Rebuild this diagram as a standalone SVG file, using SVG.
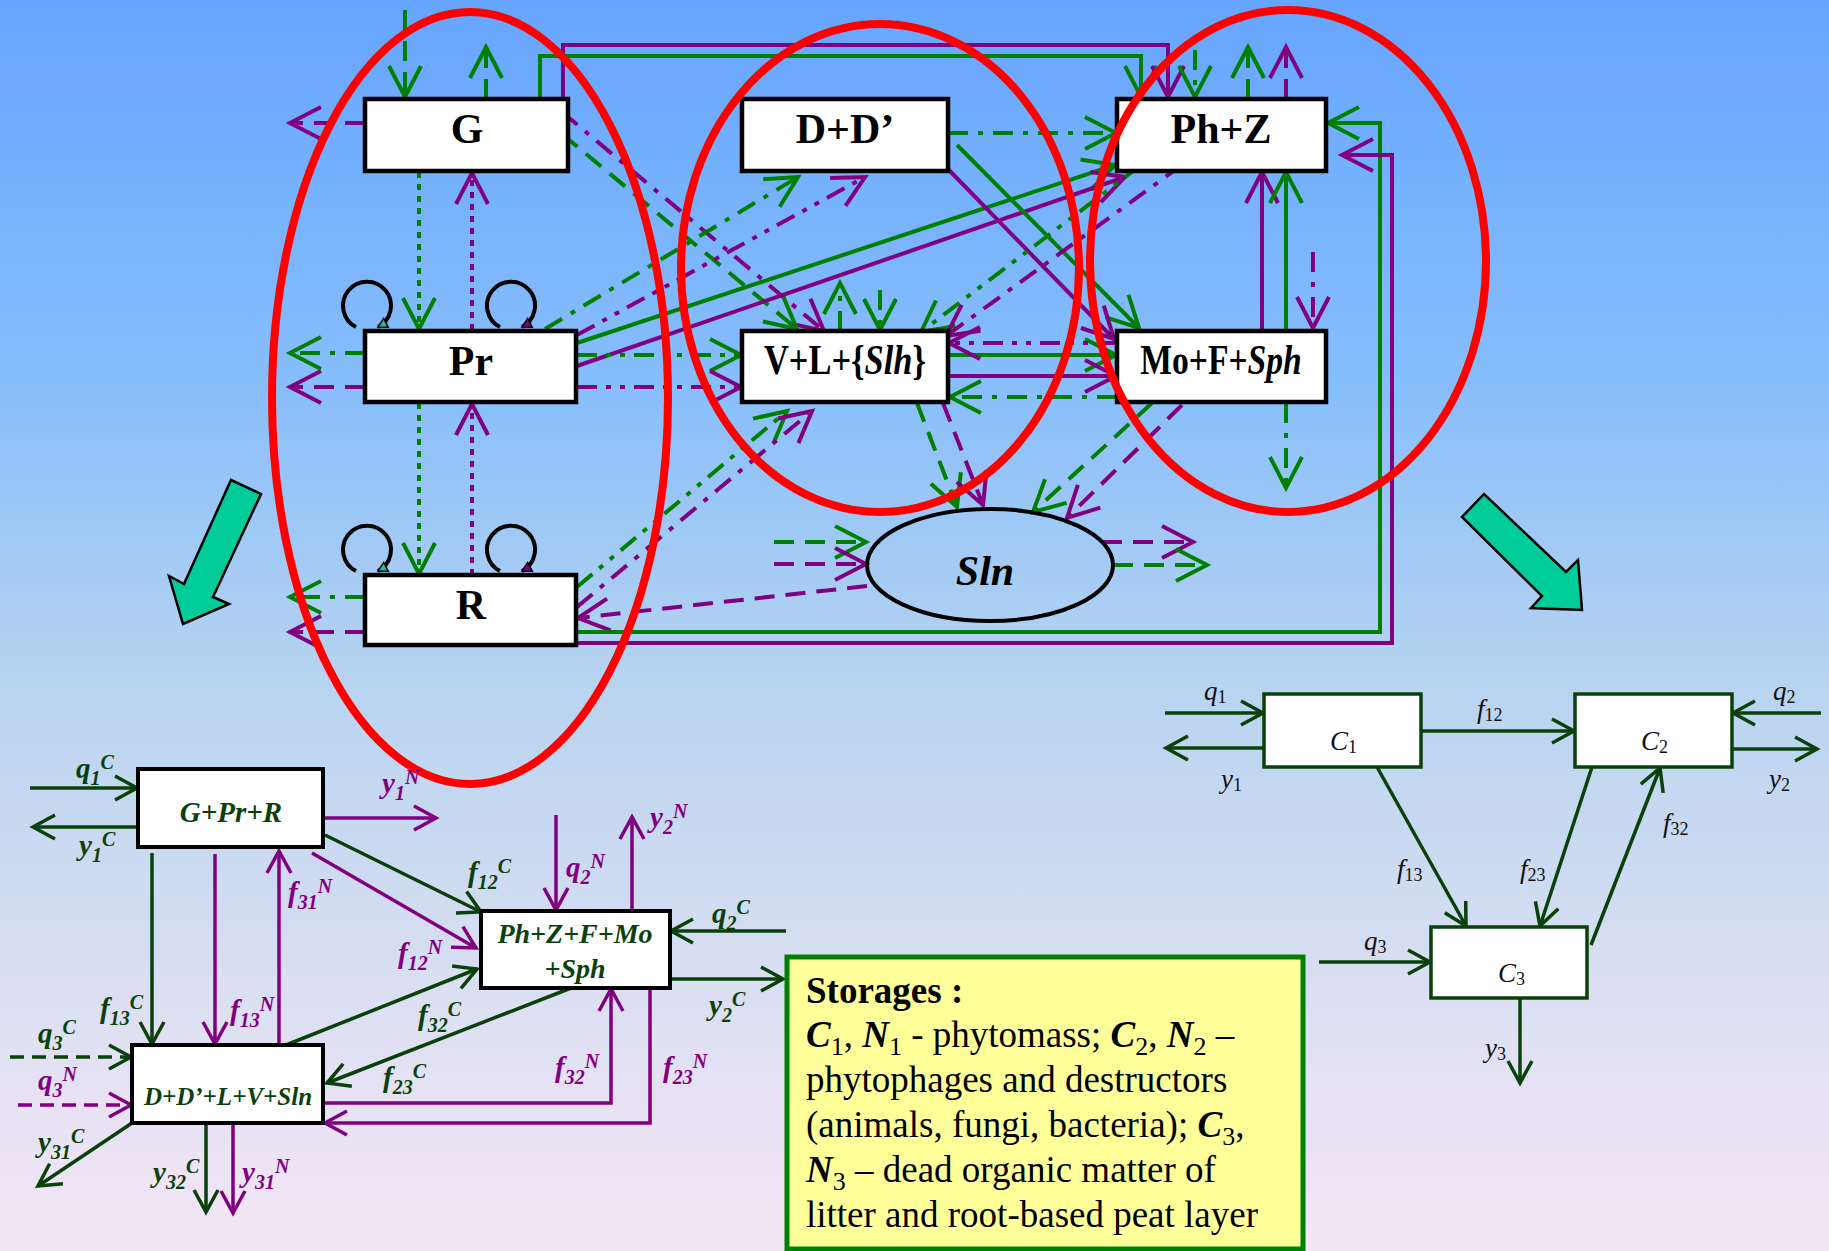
<svg xmlns="http://www.w3.org/2000/svg" width="1829" height="1251" viewBox="0 0 1829 1251">
<defs>
<linearGradient id="bg" x1="0" y1="0" x2="0" y2="1">
<stop offset="0" stop-color="#66a5ff"/>
<stop offset="0.3" stop-color="#86bdfb"/>
<stop offset="0.55" stop-color="#b8d4f0"/>
<stop offset="0.8" stop-color="#dcdff2"/>
<stop offset="1" stop-color="#f5e6f6"/>
</linearGradient>
<marker id="mg" markerUnits="userSpaceOnUse" markerWidth="40" markerHeight="40" refX="0" refY="0" orient="auto" style="overflow:visible"><path d="M-31,-16 L0,0 L-31,16" fill="none" stroke="#008000" stroke-width="4"/></marker>
<marker id="mp" markerUnits="userSpaceOnUse" markerWidth="40" markerHeight="40" refX="0" refY="0" orient="auto" style="overflow:visible"><path d="M-31,-16 L0,0 L-31,16" fill="none" stroke="#800080" stroke-width="4"/></marker>
<marker id="bgm" markerUnits="userSpaceOnUse" markerWidth="30" markerHeight="30" refX="0" refY="0" orient="auto" style="overflow:visible"><path d="M-22,-12 L0,0 L-22,12" fill="none" stroke="#0a400a" stroke-width="3.5"/></marker>
<marker id="bpm" markerUnits="userSpaceOnUse" markerWidth="30" markerHeight="30" refX="0" refY="0" orient="auto" style="overflow:visible"><path d="M-22,-12 L0,0 L-22,12" fill="none" stroke="#800080" stroke-width="3.5"/></marker>
<marker id="lt" markerUnits="userSpaceOnUse" markerWidth="20" markerHeight="20" refX="0" refY="0" orient="auto" style="overflow:visible"><path d="M-9,-5 L0,0 L-9,5 Z" fill="#20c0a0" stroke="#000" stroke-width="1.5"/></marker>
<marker id="lp" markerUnits="userSpaceOnUse" markerWidth="20" markerHeight="20" refX="0" refY="0" orient="auto" style="overflow:visible"><path d="M-9,-5 L0,0 L-9,5 Z" fill="#800080" stroke="#000" stroke-width="1.5"/></marker>
<style>
.box{fill:#fff;stroke:#000;stroke-width:4.5}
.bbox{fill:#fff;stroke:#000;stroke-width:4}
.rbox{fill:#fff;stroke:#0a400a;stroke-width:3.5}
.tb{font-family:"Liberation Serif","Times New Roman",serif;font-weight:bold;font-size:42px;text-anchor:middle;fill:#000}
.g{fill:none;stroke:#008000;stroke-width:4;marker-end:url(#mg)}
.p{fill:none;stroke:#800080;stroke-width:4;marker-end:url(#mp)}
.da{stroke-dasharray:20 11}
.dd{stroke-dasharray:20 10 5 10}
.ddd{stroke-dasharray:20 9 5 9 5 9}
.dt{stroke-dasharray:6 6}
.bgl{fill:none;stroke:#0a400a;stroke-width:3.5;marker-end:url(#bgm)}
.bpl{fill:none;stroke:#800080;stroke-width:3.5;marker-end:url(#bpm)}
.red{fill:none;stroke:#ff0000;stroke-width:8}
.loop{fill:none;stroke:#000;stroke-width:4}
.lab{font-family:"Liberation Serif","Times New Roman",serif;font-style:italic;font-weight:bold;font-size:29px}
.lg{fill:#0a400a}
.lpp{fill:#800080}
.s{font-size:20px}
.bt{font-family:"Liberation Serif","Times New Roman",serif;font-style:italic;font-weight:bold;text-anchor:middle;fill:#0a400a}
.rl{font-family:"Liberation Serif","Times New Roman",serif;font-style:italic;font-size:27px;fill:#111}
.rs{font-style:normal;font-size:18px}
.yt{font-family:"Liberation Serif","Times New Roman",serif;font-size:37px;fill:#000}
.bi{font-weight:bold;font-style:italic}
.ss{font-size:26px}
.arrow{fill:#00cc99;stroke:#000;stroke-width:2.5;stroke-linejoin:miter}
</style>
</defs>
<rect x="0" y="0" width="1829" height="1251" fill="url(#bg)"/>

<!-- big transition arrows -->
<polygon class="arrow" points="231,480 261,494 213,597 229,604 183,624 169,576 184,584"/>
<polygon class="arrow" points="1484,494 1462,517 1542,596 1531,608 1582,610 1578,560 1566,572"/>

<!-- top diagram connectors -->
<g id="connectors-top">
<path class="g da" d="M405,10 V97"/>
<path class="g da" d="M486,99 V47"/>
<path class="p da" d="M365,123 H290"/>
<path class="g" d="M540,99 V56 H1141 V97"/>
<path class="p" d="M563,99 V45 H1168 V97"/>
<path class="g dt" d="M419,172 V329"/>
<path class="p dt" d="M472,330 V173"/>
<path class="p dd" d="M562,112 L824,331"/>
<path class="g da" d="M562,134 L797,329"/>

<path class="g dd" d="M545,329 L798,177"/>
<path class="p ddd" d="M577,335 L865,177"/>
<path class="g" d="M577,343 L1115,165"/>
<path class="p" d="M577,366 L1125,177"/>
<path class="g ddd" d="M577,355 H741"/>
<path class="p ddd" d="M577,387 H741"/>
<path class="g dd" d="M365,353 H290"/>
<path class="p da" d="M365,387 H290"/>
<path class="g dt" d="M419,403 V574"/>
<path class="p dt" d="M472,575 V404"/>

<path class="g dd" d="M365,597 H290"/>
<path class="p da" d="M365,632 H290"/>
<path class="g ddd" d="M577,587 L787,411"/>
<path class="p dd" d="M577,607 L812,411"/>
<path class="p da" d="M867,586 L578,618"/>
<path class="g" d="M577,632 H1380 V123 H1328"/>
<path class="p" d="M577,643 H1392 V155 H1342"/>

<path class="g dd" d="M948,133 H1116"/>
<path class="g" d="M957,145 L1139,328"/>
<path class="p" d="M944,165 L1114,339"/>

<path class="g da" d="M1248,99 V47"/>
<path class="p da" d="M1286,99 V47"/>
<path class="g dd" d="M1195,50 V97"/>
<path class="g ddd" d="M1141,165 L921,332"/>
<path class="p dd" d="M1182,165 L946,336"/>
<path class="p" d="M1262,331 V172"/>
<path class="g" d="M1286,331 V172"/>
<path class="p dd" d="M1313,252 V328"/>

<path class="g dd" d="M840,331 V283"/>
<path class="g dd" d="M880,290 V330"/>
<path class="g" d="M948,355 H1116"/>
<path class="p" d="M948,376 H1116"/>
<path class="p ddd" d="M1117,343 H949"/>
<path class="g dd" d="M1117,397 H950"/>
<path class="g da" d="M917,403 L957,507"/>
<path class="p da" d="M943,403 L983,505"/>

<path class="g dd" d="M1286,403 V488"/>
<path class="g da" d="M1152,403 L1033,512"/>
<path class="p da" d="M1182,405 L1067,518"/>

<path class="g da" d="M774,542 H866"/>
<path class="p da" d="M774,564 H866"/>
<path class="p da" d="M1102,542 H1193"/>
<path class="g da" d="M1113,565 H1207"/>

<path class="loop" d="M356,327 A24,24 0 1 1 378,327" marker-end="url(#lt)"/>
<path class="loop" d="M500,327 A24,24 0 1 1 522,327" marker-end="url(#lp)"/>
<path class="loop" d="M356,571 A24,24 0 1 1 378,571" marker-end="url(#lt)"/>
<path class="loop" d="M500,571 A24,24 0 1 1 522,571" marker-end="url(#lp)"/>
</g>

<!-- top diagram nodes -->
<g id="node-G"><rect class="box" x="365" y="99" width="203" height="72"/><text class="tb" x="467" y="143">G</text></g>
<g id="node-DD"><rect class="box" x="742" y="99" width="206" height="72"/><text class="tb" x="845" y="143">D+D’</text></g>
<g id="node-PhZ"><rect class="box" x="1117" y="99" width="209" height="72"/><text class="tb" x="1221" y="143">Ph+Z</text></g>
<g id="node-Pr"><rect class="box" x="365" y="331" width="211" height="71"/><text class="tb" x="471" y="375">Pr</text></g>
<g id="node-VL"><rect class="box" x="742" y="331" width="206" height="71"/><text class="tb" transform="translate(845,374) scale(0.82,1)" x="0" y="0" font-size="41">V+L+{<tspan font-style="italic">Slh</tspan>}</text></g>
<g id="node-Mo"><rect class="box" x="1117" y="331" width="209" height="71"/><text class="tb" transform="translate(1221,374) scale(0.8,1)" x="0" y="0" font-size="41">Mo+F+<tspan font-style="italic">Sph</tspan></text></g>
<g id="node-R"><rect class="box" x="365" y="575" width="211" height="70"/><text class="tb" x="471" y="619">R</text></g>
<g id="node-Sln"><ellipse cx="990" cy="565" rx="123" ry="56" fill="none" stroke="#000" stroke-width="4"/><text class="tb" x="985" y="585" font-style="italic">Sln</text></g>

<!-- red grouping ellipses -->
<g id="groups">
<ellipse class="red" cx="470" cy="398" rx="198" ry="386"/>
<ellipse class="red" cx="880" cy="268" rx="199" ry="244"/>
<ellipse class="red" cx="1288" cy="261" rx="198" ry="251"/>
</g>

<!-- bottom-left diagram -->
<g id="connectors-bl">
<path class="bgl" d="M30,788 H137"/>
<path class="bgl" d="M138,827 H33"/>
<path class="bpl" d="M324,818 H436"/>
<path class="bgl" d="M325,835 L481,912"/>
<path class="bpl" d="M312,853 L476,948"/>
<path class="bgl" d="M152,853 V1044"/>
<path class="bpl" d="M215,854 V1044"/>
<path class="bpl" d="M279,1045 V851"/>
<path class="bpl" d="M556,815 V910"/>
<path class="bpl" d="M632,911 V817"/>
<path class="bgl" d="M786,931 H671"/>
<path class="bgl" d="M670,979 H783"/>
<path class="bgl" d="M286,1045 L477,969"/>
<path class="bgl" d="M571,988 L327,1083"/>
<path class="bpl" d="M324,1103 H611 V989"/>
<path class="bpl" d="M650,988 V1123 H325"/>
<path class="bgl" stroke-dasharray="14 8" d="M10,1057 H131"/>
<path class="bpl" stroke-dasharray="14 8" d="M18,1105 H131"/>
<path class="bgl" d="M132,1123 L38,1186"/>
<path class="bgl" d="M206,1123 V1212"/>
<path class="bpl" d="M233,1123 V1213"/>
</g>
<g id="node-GPrR"><rect class="bbox" x="138" y="769" width="185" height="78"/><text class="bt" x="231" y="822" font-size="29">G+Pr+R</text></g>
<g id="node-PhZFMoSph"><rect class="bbox" x="481" y="911" width="189" height="77"/><text class="bt" x="575" y="943" font-size="28">Ph+Z+F+Mo</text><text class="bt" x="575" y="978" font-size="28">+Sph</text></g>
<g id="node-DDLVSln"><rect class="bbox" x="132" y="1045" width="191" height="78"/><text class="bt" x="228" y="1105" font-size="25">D+D’+L+V+Sln</text></g>
<g id="labels-bl" class="lab">
<text class="lg" x="76" y="778">q<tspan class="s" dy="7">1</tspan><tspan class="s" dy="-16">C</tspan></text>
<text class="lg" x="79" y="855">y<tspan class="s" dy="7">1</tspan><tspan class="s" dy="-16">C</tspan></text>
<text class="lpp" x="382" y="793">y<tspan class="s" dy="7">1</tspan><tspan class="s" dy="-16">N</tspan></text>
<text class="lg" x="468" y="882">f<tspan class="s" dy="7">12</tspan><tspan class="s" dy="-16">C</tspan></text>
<text class="lpp" x="566" y="877">q<tspan class="s" dy="7">2</tspan><tspan class="s" dy="-16">N</tspan></text>
<text class="lpp" x="650" y="827">y<tspan class="s" dy="7">2</tspan><tspan class="s" dy="-16">N</tspan></text>
<text class="lpp" x="288" y="902">f<tspan class="s" dy="7">31</tspan><tspan class="s" dy="-16">N</tspan></text>
<text class="lpp" x="398" y="963">f<tspan class="s" dy="7">12</tspan><tspan class="s" dy="-16">N</tspan></text>
<text class="lg" x="712" y="923">q<tspan class="s" dy="7">2</tspan><tspan class="s" dy="-16">C</tspan></text>
<text class="lg" x="709" y="1015">y<tspan class="s" dy="7">2</tspan><tspan class="s" dy="-16">C</tspan></text>
<text class="lg" x="100" y="1018">f<tspan class="s" dy="7">13</tspan><tspan class="s" dy="-16">C</tspan></text>
<text class="lpp" x="230" y="1020">f<tspan class="s" dy="7">13</tspan><tspan class="s" dy="-16">N</tspan></text>
<text class="lg" x="418" y="1025">f<tspan class="s" dy="7">32</tspan><tspan class="s" dy="-16">C</tspan></text>
<text class="lg" x="38" y="1043">q<tspan class="s" dy="7">3</tspan><tspan class="s" dy="-16">C</tspan></text>
<text class="lpp" x="38" y="1090">q<tspan class="s" dy="7">3</tspan><tspan class="s" dy="-16">N</tspan></text>
<text class="lg" x="383" y="1087">f<tspan class="s" dy="7">23</tspan><tspan class="s" dy="-16">C</tspan></text>
<text class="lpp" x="555" y="1077">f<tspan class="s" dy="7">32</tspan><tspan class="s" dy="-16">N</tspan></text>
<text class="lpp" x="663" y="1077">f<tspan class="s" dy="7">23</tspan><tspan class="s" dy="-16">N</tspan></text>
<text class="lg" x="38" y="1152">y<tspan class="s" dy="7">31</tspan><tspan class="s" dy="-16">C</tspan></text>
<text class="lg" x="153" y="1182">y<tspan class="s" dy="7">32</tspan><tspan class="s" dy="-16">C</tspan></text>
<text class="lpp" x="242" y="1182">y<tspan class="s" dy="7">31</tspan><tspan class="s" dy="-16">N</tspan></text>
</g>

<!-- legend box -->
<g id="legend">
<rect x="787" y="957" width="516" height="292" fill="#ffff99" stroke="#008000" stroke-width="5"/>
<text class="yt" x="806" y="1003"><tspan font-weight="bold">Storages :</tspan></text>
<text class="yt" x="806" y="1047"><tspan class="bi">C</tspan><tspan class="ss" dy="8">1</tspan><tspan dy="-8">, </tspan><tspan class="bi">N</tspan><tspan class="ss" dy="8">1</tspan><tspan dy="-8"> - phytomass; </tspan><tspan class="bi">C</tspan><tspan class="ss" dy="8">2</tspan><tspan dy="-8">, </tspan><tspan class="bi">N</tspan><tspan class="ss" dy="8">2</tspan><tspan dy="-8"> –</tspan></text>
<text class="yt" x="806" y="1092">phytophages and destructors</text>
<text class="yt" x="806" y="1137">(animals, fungi, bacteria); <tspan class="bi">C</tspan><tspan class="ss" dy="8">3</tspan><tspan dy="-8">,</tspan></text>
<text class="yt" x="806" y="1182"><tspan class="bi">N</tspan><tspan class="ss" dy="8">3</tspan><tspan dy="-8"> – dead organic matter of</tspan></text>
<text class="yt" x="806" y="1227">litter and root-based peat layer</text>
</g>

<!-- bottom-right diagram -->
<g id="connectors-br">
<path class="bgl" d="M1165,713 H1263"/>
<path class="bgl" d="M1264,748 H1166"/>
<path class="bgl" d="M1420,731 H1574"/>
<path class="bgl" d="M1821,713 H1733"/>
<path class="bgl" d="M1732,749 H1817"/>
<path class="bgl" d="M1377,767 L1466,926"/>
<path class="bgl" d="M1592,767 L1540,926"/>
<path class="bgl" d="M1591,945 L1660,768"/>
<path class="bgl" d="M1319,962 H1430"/>
<path class="bgl" d="M1520,998 V1083"/>
</g>
<g id="node-C1"><rect class="rbox" x="1264" y="694" width="157" height="73"/><text class="rl" x="1330" y="750" font-size="29">C<tspan class="rs" dy="3">1</tspan></text></g>
<g id="node-C2"><rect class="rbox" x="1575" y="694" width="157" height="73"/><text class="rl" x="1641" y="750" font-size="29">C<tspan class="rs" dy="3">2</tspan></text></g>
<g id="node-C3"><rect class="rbox" x="1431" y="927" width="156" height="71"/><text class="rl" x="1498" y="982" font-size="29">C<tspan class="rs" dy="3">3</tspan></text></g>
<g id="labels-br">
<text class="rl" x="1204" y="700">q<tspan class="rs" dy="3">1</tspan></text>
<text class="rl" x="1221" y="788">y<tspan class="rs" dy="3">1</tspan></text>
<text class="rl" x="1477" y="718">f<tspan class="rs" dy="3">12</tspan></text>
<text class="rl" x="1773" y="700">q<tspan class="rs" dy="3">2</tspan></text>
<text class="rl" x="1769" y="788">y<tspan class="rs" dy="3">2</tspan></text>
<text class="rl" x="1397" y="878">f<tspan class="rs" dy="3">13</tspan></text>
<text class="rl" x="1520" y="878">f<tspan class="rs" dy="3">23</tspan></text>
<text class="rl" x="1663" y="832">f<tspan class="rs" dy="3">32</tspan></text>
<text class="rl" x="1364" y="950">q<tspan class="rs" dy="3">3</tspan></text>
<text class="rl" x="1485" y="1057">y<tspan class="rs" dy="3">3</tspan></text>
</g>
</svg>
